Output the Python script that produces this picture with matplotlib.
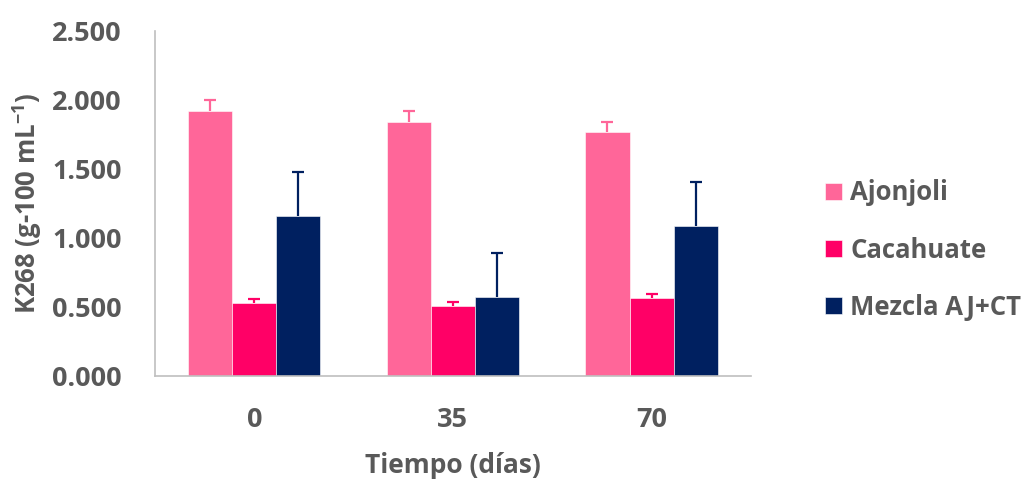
import matplotlib
matplotlib.use("Agg")
import matplotlib.pyplot as plt
import numpy as np

categories = ["0", "35", "70"]
series = ["Ajonjoli", "Cacahuate", "Mezcla AJ+CT"]
ajonjoli = [1.920, 1.843, 1.766]
ajonjoli_err = [0.080, 0.080, 0.077]
cacahuate = [0.527, 0.510, 0.563]
cacahuate_err = [0.030, 0.030, 0.030]
mezcla = [1.157, 0.575, 1.085]
mezcla_err = [0.320, 0.320, 0.320]
colors = ["#FF6699", "#FF0066", "#002060"]
yticks = [0.0, 0.5, 1.0, 1.5, 2.0, 2.5]

FONT = 'Open Sans'
plt.rcParams['font.family'] = [FONT, 'DejaVu Sans']
plt.rcParams['font.weight'] = 'bold'
plt.rcParams['mathtext.fontset'] = 'custom'
plt.rcParams['mathtext.rm'] = FONT + ':bold'
plt.rcParams['mathtext.it'] = FONT + ':bold'
plt.rcParams['mathtext.bf'] = FONT + ':bold'
txt = "#595959"

fig = plt.figure(figsize=(10.31, 4.79), dpi=100)
ax = fig.add_axes([0.1503, 0.215, 0.578, 0.72])

x = np.arange(len(categories))
w = 0.222
vals = [ajonjoli, cacahuate, mezcla]
errs = [ajonjoli_err, cacahuate_err, mezcla_err]
handles = []
for i, (v, e, c, name) in enumerate(zip(vals, errs, colors, series)):
    xs = x + (i - 1) * w
    b = ax.bar(xs, v, width=w, color=c, label=name, zorder=2,
               edgecolor='white', linewidth=0.4)
    handles.append(b)
    eb = ax.errorbar(xs, v, yerr=[np.zeros(len(e)), e], fmt='none', ecolor=c,
                     elinewidth=1.6, capsize=4.5, capthick=1.6, zorder=3)
    caps = eb[1]
    if len(caps) == 2:
        caps[0].set_visible(False)

ax.set_xlim(-0.5, len(categories) - 0.5)
ax.set_ylim(0, 2.5)
ax.set_yticks(yticks)
ax.set_yticklabels([f"{t:.3f}" for t in yticks])
ax.set_xticks(x)
ax.set_xticklabels(categories)
ax.tick_params(axis='both', length=0, labelsize=19.5, labelcolor=txt)
for lab in ax.get_xticklabels() + ax.get_yticklabels():
    lab.set_fontweight('bold')
ax.tick_params(axis='y', pad=24)
ax.tick_params(axis='x', pad=22)
for s in ['top', 'right']:
    ax.spines[s].set_visible(False)
for s in ['left', 'bottom']:
    ax.spines[s].set_color('#BFBFBF')
    ax.spines[s].set_linewidth(1.2)

ax.set_ylabel(r"K268 (g-100 mL$^{-1}$)", fontsize=18.5, color=txt, fontweight='bold', labelpad=6)
ax.set_xlabel("Tiempo (días)", fontsize=19, color=txt, fontweight='bold', labelpad=14)

leg = fig.legend(handles=handles, labels=series, loc='center left',
                 bbox_to_anchor=(0.800, 0.478), frameon=False, borderpad=0,
                 borderaxespad=0, prop={'family': FONT, 'weight': 'bold', 'size': 18.5},
                 handlelength=0.65, handleheight=0.65,
                 labelspacing=1.18, handletextpad=0.35)
for t in leg.get_texts():
    t.set_color(txt)

fig.savefig("out.png", dpi=100)
